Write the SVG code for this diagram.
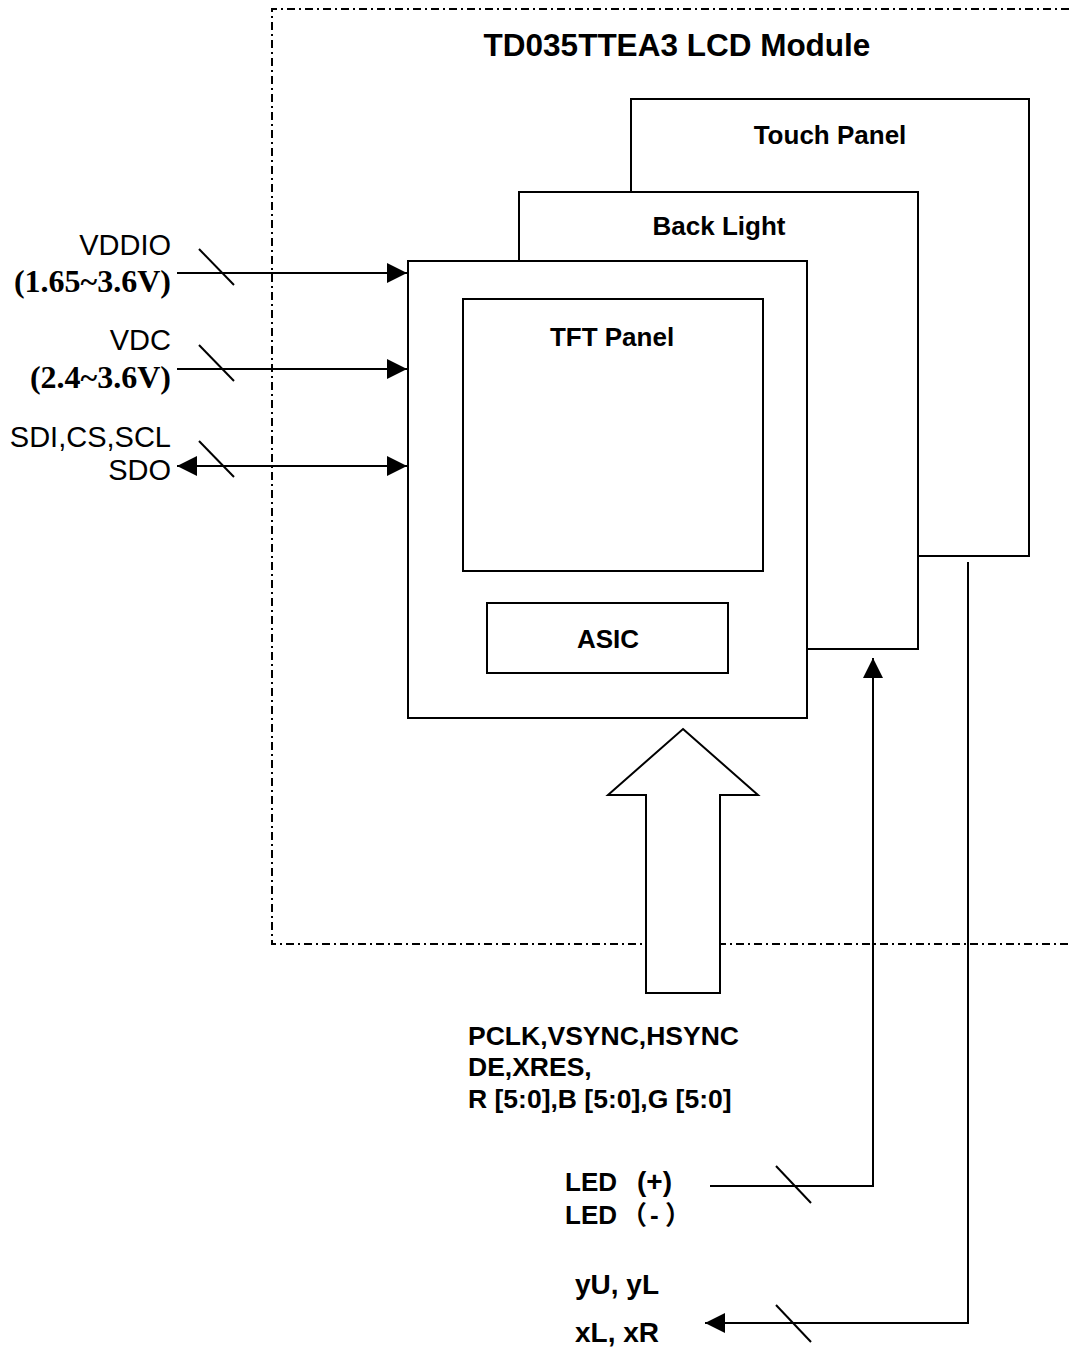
<svg xmlns="http://www.w3.org/2000/svg" width="1069" height="1348" viewBox="0 0 1069 1348">
<style>
.box{fill:#fff;stroke:#000;stroke-width:2}
.ln{fill:none;stroke:#000;stroke-width:2}
.dd{fill:none;stroke:#000;stroke-width:2;stroke-dasharray:8 4 2 4}
.b{font-family:"Liberation Sans",Arial,sans-serif;font-weight:bold;font-size:26px;fill:#000}
.n{font-family:"Liberation Sans",Arial,sans-serif;font-size:29px;fill:#000}
.t{font-family:"Liberation Serif","Times New Roman",serif;font-weight:bold;font-size:32px;fill:#000}
.c{font-family:"Liberation Sans","Noto Sans CJK SC",sans-serif;font-weight:bold;font-size:26px;fill:#000}
</style>
<defs>
<marker id="ah" markerWidth="20" markerHeight="20" viewBox="0 0 20 20" refX="20" refY="10" orient="auto" markerUnits="userSpaceOnUse">
<path d="M0,0 L20,10 L0,20 Z" fill="#000"/>
</marker>
<marker id="as" markerWidth="20" markerHeight="20" viewBox="0 0 20 20" refX="20" refY="10" orient="auto-start-reverse" markerUnits="userSpaceOnUse">
<path d="M0,0 L20,10 L0,20 Z" fill="#000"/>
</marker>
</defs>
<rect width="1069" height="1348" fill="#fff"/>
<g id="module">
<path class="dd" d="M1069,9 L272,9 L272,944 L1069,944"/>
<text class="b" x="677" y="56" text-anchor="middle" style="font-size:31.5px">TD035TTEA3 LCD Module</text>
</g>
<g id="touch-panel">
<rect class="box" x="631" y="99" width="398" height="457"/>
<text class="b" x="830" y="144" text-anchor="middle">Touch Panel</text>
</g>
<g id="back-light">
<rect class="box" x="519" y="192" width="399" height="457"/>
<text class="b" x="719" y="235" text-anchor="middle">Back Light</text>
</g>
<g id="main">
<rect class="box" x="408" y="261" width="399" height="457"/>
</g>
<g id="tft-panel">
<rect class="box" x="463" y="299" width="300" height="272"/>
<text class="b" x="612" y="346" text-anchor="middle">TFT Panel</text>
</g>
<g id="asic">
<rect class="box" x="487" y="603" width="241" height="70"/>
<text class="b" x="608" y="648" text-anchor="middle">ASIC</text>
</g>
<g id="bus-arrow">
<path class="box" d="M683,729 L758,795 L720,795 L720,993 L646,993 L646,795 L608,795 Z"/>
</g>
<g id="connectors">
<line class="ln" x1="177" y1="273" x2="407" y2="273" marker-end="url(#ah)"/>
<line class="ln" x1="199" y1="249" x2="234" y2="285"/>
<line class="ln" x1="177" y1="369" x2="407" y2="369" marker-end="url(#ah)"/>
<line class="ln" x1="199" y1="345" x2="234" y2="381"/>
<line class="ln" x1="177" y1="466" x2="407" y2="466" marker-start="url(#as)" marker-end="url(#as)"/>
<line class="ln" x1="199" y1="441" x2="234" y2="477"/>
<path class="ln" d="M710,1186 L873,1186 L873,658" marker-end="url(#ah)"/>
<line class="ln" x1="776" y1="1166" x2="811" y2="1203"/>
<path class="ln" d="M968,562 L968,1323 L705,1323" marker-end="url(#ah)"/>
<line class="ln" x1="776" y1="1305" x2="811" y2="1342"/>
</g>
<g id="labels">
<text class="n" x="171" y="255" text-anchor="end">VDDIO</text>
<text class="t" x="171" y="292" text-anchor="end">(1.65~3.6V)</text>
<text class="n" x="171" y="350" text-anchor="end">VDC</text>
<text class="t" x="171" y="388" text-anchor="end">(2.4~3.6V)</text>
<text class="n" x="171" y="447" text-anchor="end">SDI,CS,SCL</text>
<text class="n" x="171" y="480" text-anchor="end">SDO</text>
<text class="b" x="468" y="1045" style="font-size:26.5px">PCLK,VSYNC,HSYNC</text>
<text class="b" x="468" y="1076" style="font-size:26.5px">DE,XRES,</text>
<text class="b" x="468" y="1108" style="font-size:26.5px">R [5:0],B [5:0],G [5:0]</text>
<text class="c" x="565" y="1191">LED <tspan x="637" style="font-size:28px">(+)</tspan></text>
<text class="c" x="565" y="1224">LED<tspan x="621">（</tspan><tspan x="650">-</tspan><tspan x="665">）</tspan></text>
<text class="b" x="575" y="1294" style="font-size:28px">yU, yL</text>
<text class="b" x="575" y="1342" style="font-size:28px">xL, xR</text>
</g>
</svg>
